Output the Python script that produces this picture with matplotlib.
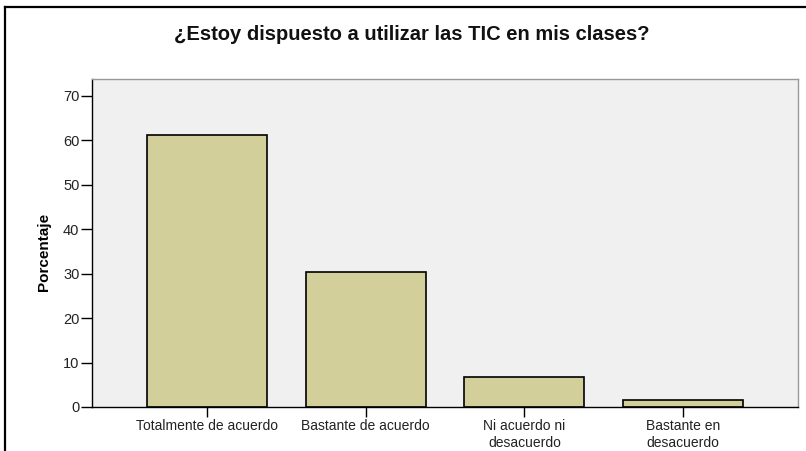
import matplotlib
matplotlib.use("Agg")
import matplotlib.pyplot as plt
from matplotlib.lines import Line2D

plt.rcParams['font.family'] = ['Liberation Sans', 'DejaVu Sans']

# datos
categorias = ["Totalmente de acuerdo", "Bastante de acuerdo",
              "Ni acuerdo ni\ndesacuerdo", "Bastante en\ndesacuerdo"]
porcentaje = [61.3, 30.3, 6.8, 1.6]
yticks = [0, 10, 20, 30, 40, 50, 60, 70]

fig = plt.figure(figsize=(8.06, 4.51), dpi=100)
ax = fig.add_axes([0.1141, 0.0976, 0.990 - 0.1141, 0.8248 - 0.0976])
ax.set_facecolor("#f0f0f0")

pos = list(range(len(categorias)))
ax.bar(pos, porcentaje, width=0.755, color="#d3cf9a", edgecolor="black", linewidth=1.2)

ax.set_xlim(-0.723, len(categorias) - 1 + 0.723)
ax.set_ylim(0, 73.8)
ax.set_yticks(yticks)
ax.set_xticks(pos)
ax.set_xticklabels(categorias, fontsize=10, linespacing=1.2)
ax.tick_params(axis="y", labelsize=10.5, length=8, width=1, direction="out", pad=1, labelcolor="#222222")
ax.tick_params(axis="x", length=7, width=1, direction="out", pad=2, labelcolor="#222222")

ax.spines["left"].set_color("black")
ax.spines["bottom"].set_color("black")
ax.spines["top"].set_color("#999999")
ax.spines["right"].set_color("#999999")
for s in ax.spines.values():
    s.set_linewidth(1)

ax.set_ylabel("Porcentaje", fontsize=11, fontweight="bold")
ax.yaxis.set_label_coords(-0.058, 0.473)
fig.text(0.511, 0.924, "¿Estoy dispuesto a utilizar las TIC en mis clases?",
         ha="center", va="center", fontsize=14.5, fontweight="bold", color="#111111")

# marco de la imagen
fig.add_artist(Line2D([0.0062, 0.0062], [0, 0.9845], color="black", lw=1.6, transform=fig.transFigure))
fig.add_artist(Line2D([0.0062, 1], [0.9845, 0.9845], color="black", lw=1.6, transform=fig.transFigure))

fig.savefig("out.png", dpi=100)
